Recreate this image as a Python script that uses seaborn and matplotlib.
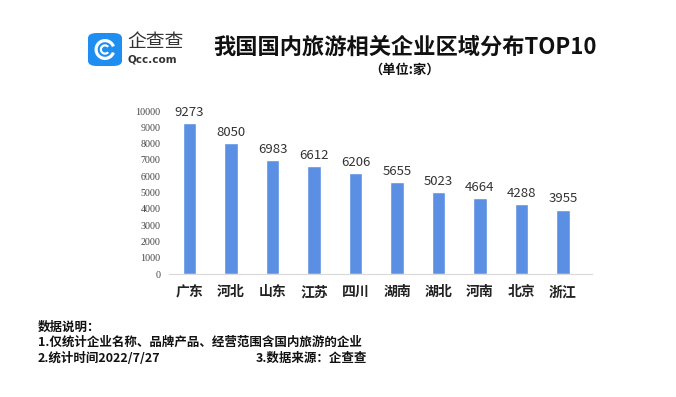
import numpy as np
import seaborn as sns
import matplotlib.pyplot as plt
from matplotlib.patches import FancyBboxPatch, Wedge

provinces = ['广东', '河北', '山东', '江苏', '四川', '湖南', '湖北', '河南', '北京', '浙江']
counts = [9273, 8050, 6983, 6612, 6206, 5655, 5023, 4664, 4288, 3955]
yticks = list(range(0, 10001, 1000))

TITLE = '我国国内旅游相关企业区域分布TOP10'
UNIT = '（单位:家）'
NOTES = ['数据说明：', '1.仅统计企业名称、品牌产品、经营范围含国内旅游的企业', '2.统计时间2022/7/27']
SOURCE = '3.数据来源：企查查'

BAR_COLOR = '#5b8fe4'
CJK = ['Noto Sans CJK SC', 'DejaVu Sans']

sns.set_theme(style='white')
plt.rcParams['font.family'] = CJK

W, H = 676, 397
fig = plt.figure(figsize=(W / 100, H / 100), dpi=100)
fig.patch.set_facecolor('white')

ax = fig.add_axes([168.8 / W, (H - 274) / H, (592 - 168.8) / W, (274 - 111) / H])
sns.barplot(x=provinces, y=counts, color=BAR_COLOR, width=0.33,
            saturation=1, ax=ax)
ax.set_ylim(0, 10000)
ax.set_yticks(yticks)
ax.set_yticklabels([str(t) for t in yticks], family='Liberation Serif',
                   fontsize=7.2, color='#444444')
ax.tick_params(axis='y', length=0, pad=6)
ax.tick_params(axis='x', length=0, pad=8)
for lbl in ax.get_xticklabels():
    lbl.set_fontweight('bold')
    lbl.set_fontsize(10)
    lbl.set_color('#222222')
ax.set_xlabel('')
ax.set_ylabel('')
for s in ['left', 'right', 'top']:
    ax.spines[s].set_visible(False)
ax.spines['bottom'].set_color('#d9d9d9')
ax.spines['bottom'].set_linewidth(0.8)
ax.set_xlim(-0.5, len(provinces) - 0.3)
ax.bar_label(ax.containers[0], fmt='%d', padding=3, fontsize=9.5,
             color='#333333', family='Noto Sans CJK SC')


def fx(px):
    return px / W


def fy(py):
    return 1 - py / H


# title
fig.text(fx(405), fy(47), TITLE, ha='center', va='center', fontsize=16,
         fontweight='bold', color='#111111')
fig.text(fx(405), fy(70), UNIT, ha='center', va='center', fontsize=9.5,
         fontweight='bold', color='#111111')

# logo
logo = FancyBboxPatch((fx(88), fy(66)), fx(34), (33 / H),
                      boxstyle='round,pad=0,rounding_size=0.013',
                      transform=fig.transFigure, facecolor='#1f8ef1', edgecolor='none')
fig.add_artist(logo)
fig.add_artist(Wedge((105 / 100, (H - 49.5) / 100), 0.105, 20, 340, width=0.032,
                     transform=fig.dpi_scale_trans, facecolor='white', edgecolor='none'))
fig.add_artist(Wedge((105 / 100, (H - 49.5) / 100), 0.052, 40, 320, width=0.022,
                     transform=fig.dpi_scale_trans, facecolor='white', edgecolor='none'))
fig.text(fx(127), fy(42), '企查查', ha='left', va='center', fontsize=13.5,
         color='#333333')
fig.text(fx(128), fy(59), 'Qcc.com', ha='left', va='center', fontsize=7.5,
         color='#333333', family='DejaVu Sans', fontweight='bold')

# notes
for i, line in enumerate(NOTES):
    fig.text(fx(38), fy(327 + 15.5 * i), line, ha='left', va='center',
             fontsize=9, fontweight='bold', color='#111111')
fig.text(fx(256), fy(358), SOURCE, ha='left', va='center', fontsize=9,
         fontweight='bold', color='#111111')

fig.savefig('out.png', dpi=100, facecolor='white')
